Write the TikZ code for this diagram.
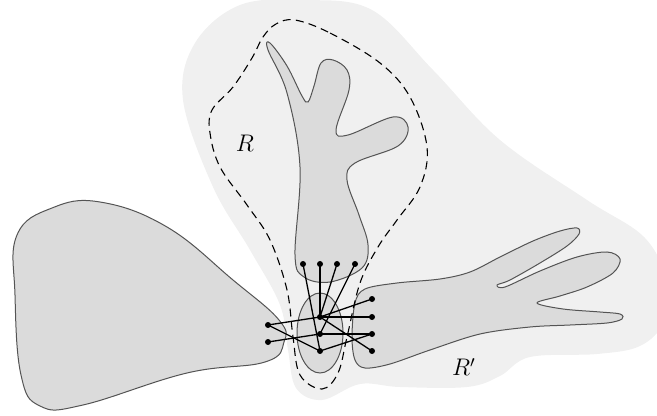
\documentclass[tikz,border=0pt]{standalone}
\usepackage{tikz}

\definecolor{outergray}{gray}{0.94}
\definecolor{blobgray}{gray}{0.86}
\definecolor{rimgray}{gray}{0.33}

\tikzset{
  region/.style={fill=outergray,draw=none},
  blob/.style={fill=blobgray,draw=rimgray,line width=0.5pt},
  hull/.style={draw=black,line width=0.55pt,dash pattern=on 4pt off 2.6pt},
  edge/.style={draw=black,line width=0.65pt},
}

\begin{document}
\begin{tikzpicture}[x=0.5pt,y=-0.5pt]
\useasboundingbox (0,0) rectangle (657,416);

% light region around R and R'
\fill[region] plot[smooth cycle,tension=0.6] coordinates {
  (183,100) (195,43) (240,5) (305,0) (372,10) (433,70) (500,140) (587,200)
  (645,238) (668,285) (664,322) (640,346) (597,354) (530,357) (500,376)
  (467,387) (400,387) (360,384) (322,400) (296,388) (288,350) (280,305)
  (250,250) (213,187)};

% left blob
\draw[blob] plot[smooth cycle,tension=0.7] coordinates {
  (100,202) (167,227) (233,280) (279,320) (284,342) (265,362) (187,373)
  (83,405) (40,406) (21,375) (15,295) (17,235) (52,208)};

% tree
\draw[blob] plot[smooth cycle,tension=0.6] coordinates {
  (270,43) (287,66) (302,96) (308,102) (314,86) (321,63) (333,60)
  (347,70) (349,90) (336,130) (348,135) (393,117) (408,127) (398,146)
  (355,163) (347,180) (359,215) (368,245) (362,268) (330,282) (304,277)
  (295,255) (300,167) (287,93) (268,50)};

% hand
\draw[blob] plot[smooth cycle,tension=0.55] coordinates {
  (355,303) (365,289) (397,283) (440,279) (470,272) (500,257) (533,241)
  (560,231) (577,228) (579,234) (567,246) (540,263) (510,280) (497,285)
  (505,287) (540,271) (577,257) (607,252) (620,259) (613,273) (587,287)
  (560,296) (537,303) (563,309) (600,312) (620,314) (622,319) (607,323)
  (570,325) (530,327) (480,334) (430,350) (390,364) (365,368) (355,360)
  (352,337)};

% middle ellipse
\draw[blob] (320,333) ellipse (23 and 40);

\draw[hull] plot[smooth cycle,tension=0.6] coordinates {
  (295,20) (330,33) (380,63) (410,97) (427,147) (420,187) (397,220)
  (378,247) (360,283) (347,337) (338,373) (322,389) (300,375) (293,337)
  (287,290) (270,240) (247,205) (220,167) (210,133) (212,110) (233,87)
  (252,58) (263,37) (276,24)};

\coordinate (a1) at (303,264);
\coordinate (a2) at (320,264);
\coordinate (a3) at (337,264);
\coordinate (a4) at (355,264);
\coordinate (c1) at (320,317);
\coordinate (c2) at (320,334);
\coordinate (c3) at (320,351);
\coordinate (l1) at (268,325);
\coordinate (l2) at (268,342);
\coordinate (r1) at (372,299);
\coordinate (r2) at (372,317);
\coordinate (r3) at (372,334);
\coordinate (r4) at (372,351);

\draw[edge] (a1)--(c3);
\draw[edge] (a2)--(c1);
\draw[edge] (a3)--(c1);
\draw[edge] (a4)--(c2);
\draw[edge] (l1)--(c1);
\draw[edge] (l1)--(c3);
\draw[edge] (l2)--(c2);
\draw[edge] (c1)--(r1);
\draw[edge] (c1)--(r2);
\draw[edge] (c1)--(r4);
\draw[edge] (c2)--(r3);
\draw[edge] (c3)--(r3);

\foreach \p in {a1,a2,a3,a4,c1,c2,c3,l1,l2,r1,r2,r3,r4}
  \fill (\p) circle (1.5pt);

\node (lblR) at (245,143) {\large\(R\)};
\node (lblRp) at (464,367) {\large\(R'\)};
\end{tikzpicture}
\end{document}
